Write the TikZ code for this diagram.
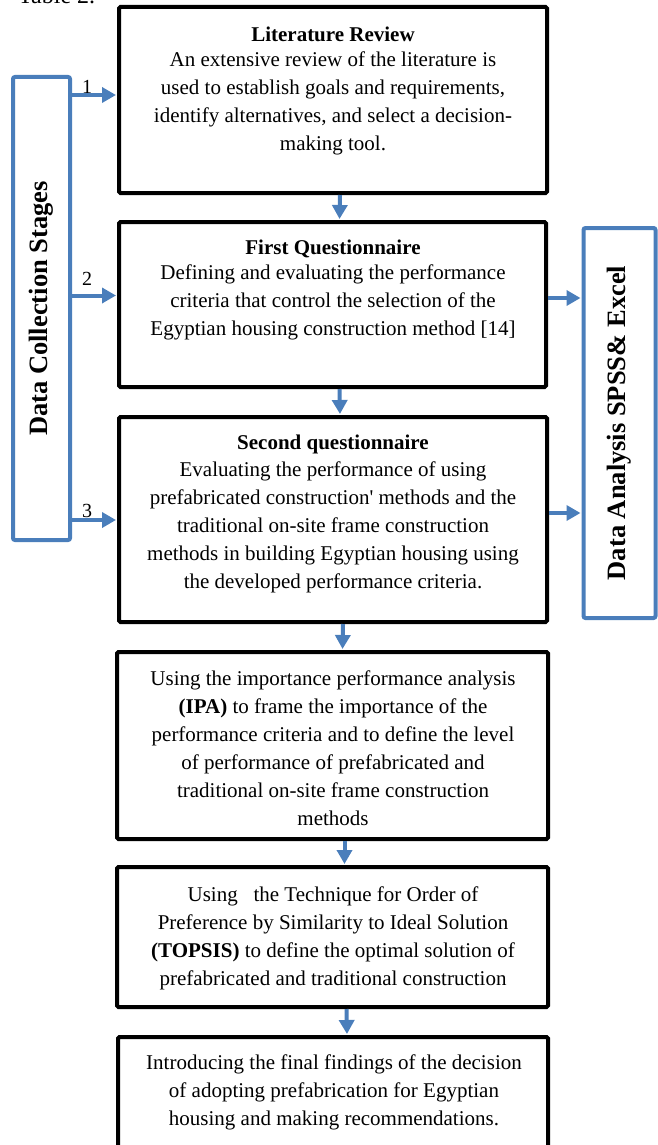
\documentclass[tikz,border=0pt]{standalone}
\usepackage{fontspec}
\setmainfont{Liberation Serif}
\usetikzlibrary{arrows.meta}
\definecolor{flowblue}{RGB}{74,126,187}
\tikzset{
  stagebox/.style={draw=black,line width=4pt,rounded corners=1.5pt,inner sep=0pt},
  sidebox/.style={draw=flowblue,line width=4pt,rounded corners=2pt,inner sep=0pt},
  stagetext/.style={anchor=north,align=center,inner sep=0pt,font=\fontsize{21}{28}\selectfont},
  sidetext/.style={rotate=90,inner sep=0pt,font=\bfseries\fontsize{26.5}{30}\selectfont},
  flowarrow/.style={draw=flowblue,line width=4pt,-{Triangle[width=15pt,length=14pt]},shorten >=1pt},
  stepnum/.style={inner sep=0pt,font=\fontsize{20}{24}\selectfont}
}
\begin{document}
\begin{tikzpicture}[x=1pt,y=-1pt]
\useasboundingbox (0,0) rectangle (658,1145);
\node[anchor=base west,inner sep=0pt,font=\fontsize{24}{28}\selectfont] (tabcap) at (18,4) {Table 2.};

% stage boxes
\node[stagebox,minimum width=428pt,minimum height=186pt] (lit) at (333,100) {};
\node[stagebox,minimum width=427pt,minimum height=165pt] (q1) at (332.5,304.5) {};
\node[stagebox,minimum width=428pt,minimum height=205pt] (q2) at (333,519.5) {};
\node[stagebox,minimum width=431pt,minimum height=187pt] (ipa) at (332.5,745.5) {};
\node[stagebox,minimum width=431pt,minimum height=140pt] (topsis) at (332.5,937) {};
\node[stagebox,minimum width=430pt,minimum height=140pt] (final) at (333,1107) {};

\node[stagetext] (littext) at (333,26.5) {\textbf{Literature Review}\\[-3pt]
An extensive review of the literature is\\
used to establish goals and requirements,\\
identify alternatives, and select a decision-\\
making tool.};
\node[stagetext] (q1text) at (333,239.5) {\textbf{First Questionnaire}\\[-3pt]
Defining and evaluating the performance\\
criteria that control the selection of the\\
Egyptian housing construction method [14]};
\node[stagetext] (q2text) at (333,434.5) {\textbf{Second questionnaire}\\[-1pt]
Evaluating the performance of using\\
prefabricated construction\textquotesingle{} methods and the\\
traditional on-site frame construction\\
methods in building Egyptian housing using\\
the developed performance criteria.};
\node[stagetext] (ipatext) at (333,670.5) {Using the importance performance analysis\\
\textbf{(IPA)} to frame the importance of the\\
performance criteria and to define the level\\
of performance of prefabricated and\\
traditional on-site frame construction\\
methods};
\node[stagetext] (topsistext) at (333,886.5) {Using\ \ \ the Technique for Order of\\
Preference by Similarity to Ideal Solution\\
\textbf{(TOPSIS)} to define the optimal solution of\\
prefabricated and traditional construction};
\node[stagetext] (finaltext) at (334,1054.5) {Introducing the final findings of the decision\\
of adopting prefabrication for Egyptian\\
housing and making recommendations.};

% side boxes
\node[sidebox,minimum width=57pt,minimum height=463pt] (collect) at (41.5,308.5) {};
\node[sidetext] (collecttext) at (collect.center) {Data Collection Stages};
\node[sidebox,minimum width=72pt,minimum height=390pt] (analysis) at (619.5,423) {};
\node[sidetext] (analysistext) at (analysis.center) {Data Analysis SPSS\& Excel};

% down arrows
\draw[flowarrow] ([xshift=7pt]lit.south) -- ([xshift=7pt]q1.north);
\draw[flowarrow] ([xshift=7pt]q1.south) -- ([xshift=7pt]q2.north);
\draw[flowarrow] ([xshift=10pt]q2.south) -- ([xshift=10pt]ipa.north);
\draw[flowarrow] ([xshift=12pt]ipa.south) -- ([xshift=12pt]topsis.north);
\draw[flowarrow] ([xshift=14pt]topsis.south) -- ([xshift=14pt]final.north);

% data collection arrows
\path (lit.west) ++(0,-5) coordinate (in1);
\path (q1.west) ++(0,-9) coordinate (in2);
\path (q2.west) ++(0,0.5) coordinate (in3);
\draw[flowarrow] (collect.east |- in1) -- (in1);
\draw[flowarrow] (collect.east |- in2) -- (in2);
\draw[flowarrow] (collect.east |- in3) -- (in3);
\node[stepnum] (num1) at (87,87) {1};
\node[stepnum] (num2) at (87,279) {2};
\node[stepnum] (num3) at (87,511) {3};

% data analysis arrows
\path (q1.east) ++(0,-6.5) coordinate (out1);
\path (q2.east) ++(0,-6.5) coordinate (out2);
\draw[flowarrow] (out1) -- (analysis.west |- out1);
\draw[flowarrow] (out2) -- (analysis.west |- out2);
\end{tikzpicture}
\end{document}
